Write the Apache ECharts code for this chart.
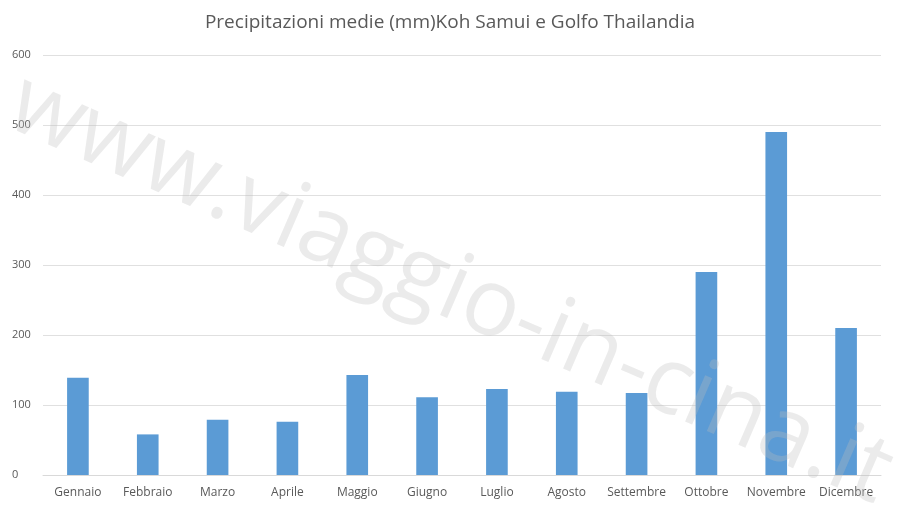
<!DOCTYPE html>
<html><head><meta charset="utf-8">
<script src="https://cdn.jsdelivr.net/npm/echarts@6/dist/echarts.min.js"></script>
<style>html,body{margin:0;padding:0;background:#fff}#c{width:900px;height:511px}</style>
</head><body><div id="c"></div>
<script>
const categories=["Gennaio","Febbraio","Marzo","Aprile","Maggio","Giugno","Luglio","Agosto","Settembre","Ottobre","Novembre","Dicembre"];
const values=[139,58,79,76,143,111,123,119,117,290,490,210];
const title="Precipitazioni medie (mm)Koh Samui e Golfo Thailandia";
const watermark="www.viaggio-in-cina.it";
const chart=echarts.init(document.getElementById('c'));
chart.setOption({
 animation:false,
 title:{text:title,left:'center',top:8,textStyle:{fontFamily:'Open Sans',fontWeight:'normal',fontSize:19,color:'#595959'}},
 grid:{left:43,right:19,top:55,bottom:36},
 xAxis:{type:'category',data:categories,axisLine:{lineStyle:{color:'#d9d9d9'}},axisTick:{show:false},
  axisLabel:{interval:0,color:'#595959',fontSize:12,fontFamily:'Open Sans',margin:12}},
 yAxis:{type:'value',min:0,max:600,interval:100,axisLine:{show:false},axisTick:{show:false},
  splitLine:{lineStyle:{color:'#e0e0e0'}},axisLabel:{color:'#595959',fontSize:11,fontFamily:'Open Sans',margin:31,align:'left'}},
 series:[{type:'bar',data:values,barWidth:'31%',itemStyle:{color:'#5b9bd5'}}],
 graphic:[{type:'text',x:450,y:290,rotation:-0.41,z:100,
  style:{text:watermark,fontSize:94,fontFamily:'Open Sans',fill:'rgba(190,190,190,0.3)',align:'center',verticalAlign:'middle'}}]
});
</script></body></html>
